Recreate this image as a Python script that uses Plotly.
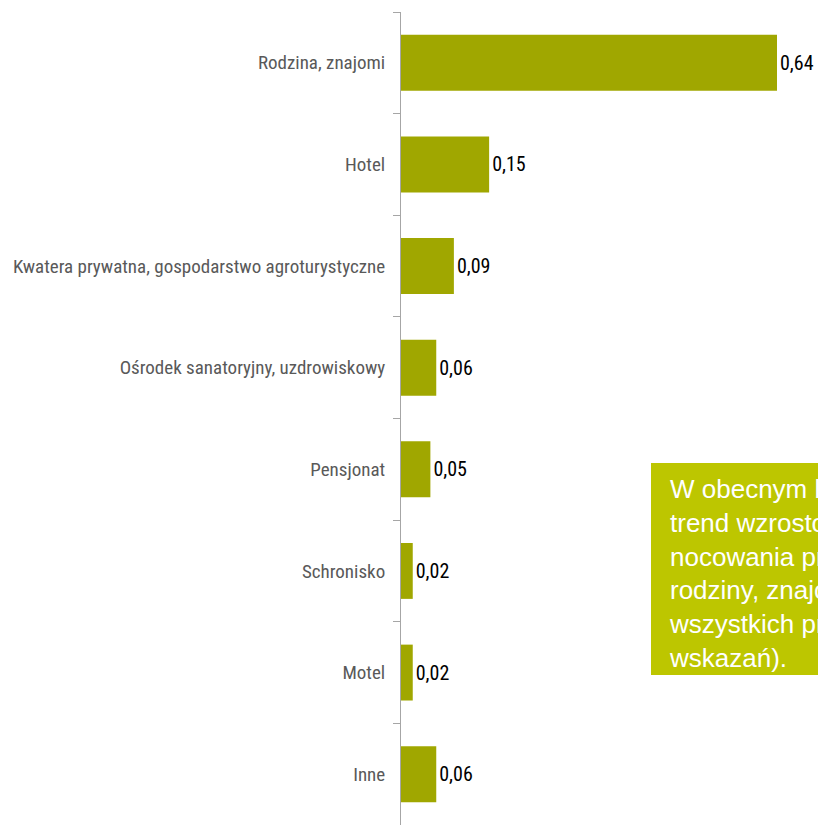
import plotly.graph_objects as go

categories = ["Rodzina, znajomi", "Hotel", "Kwatera prywatna, gospodarstwo agroturystyczne",
              "Ośrodek sanatoryjny, uzdrowiskowy", "Pensjonat", "Schronisko", "Motel", "Inne"]
values = [0.64, 0.15, 0.09, 0.06, 0.05, 0.02, 0.02, 0.06]
note_lines = ["W obecnym badaniu widoczny jest", "trend wzrostowy w zakresie",
              "nocowania przez turystów u", "rodziny, znajomych (64%",
              "wszystkich przypadków", "wskazań)."]

BAR = "#A0A700"
BOX = "#BDC600"
NARROW = "Roboto Condensed, Liberation Sans Narrow, Arial Narrow, sans-serif"

fig = go.Figure(go.Bar(
    x=values, y=categories, orientation="h",
    marker=dict(color=BAR, line=dict(width=0)),
    texttemplate="%{x:.2f}", textposition="outside",
    textfont=dict(family=NARROW, size=20, color="#000000"),
    cliponaxis=False, constraintext="none",
    width=0.55,
))

fig.update_layout(
    width=818, height=825,
    margin=dict(l=401, r=0, t=12, b=0, autoexpand=False),
    paper_bgcolor="white", plot_bgcolor="white",
    separators=", ",
    showlegend=False,
    xaxis=dict(range=[0, 417 / 587.5], visible=False, fixedrange=True),
    yaxis=dict(
        autorange=False, range=[7.5, -0.5], type="category", automargin=False,
        categoryorder="array", categoryarray=categories,
        showline=True, linecolor="#A6A6A6", linewidth=1,
        ticks="outside", ticklen=7, tickcolor="#A6A6A6", tickson="boundaries",
        ticklabelstandoff=11,
        tickfont=dict(family=NARROW, size=19, color="#595959"),
        showgrid=False, zeroline=False, fixedrange=True,
    ),
    shapes=[dict(type="rect", xref="paper", yref="paper",
                 x0=(651 - 401) / 417, x1=1.0, y0=1 - (675 - 12) / 813, y1=1 - (463 - 12) / 813,
                 fillcolor=BOX, line=dict(width=0), layer="above")],
    annotations=[dict(xref="paper", yref="paper", x=(667 - 401) / 417, y=1 - (573 - 12) / 813,
                      xanchor="left", yanchor="middle", align="left", showarrow=False,
                      text="<br>".join(note_lines),
                      font=dict(family="Liberation Sans, Arial, sans-serif", size=26, color="white"))],
)

fig.write_html("out.html", config={"displayModeBar": False},
               post_script="document.body.style.margin='0';document.body.style.overflow='hidden';")
